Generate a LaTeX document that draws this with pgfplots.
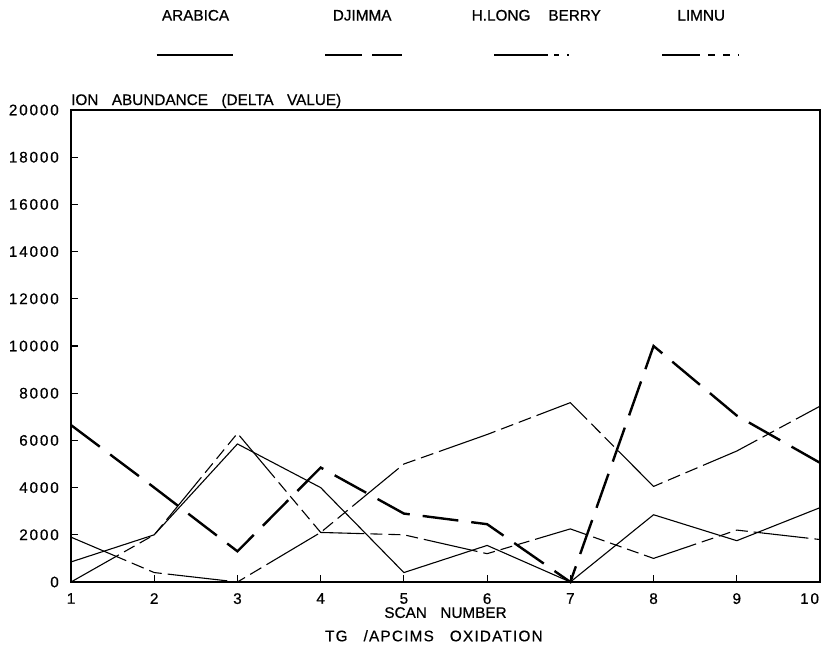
\documentclass[border=0pt]{standalone}
\usepackage{fontspec}
\setmainfont{Liberation Sans}[FakeBold=0.6]
\newfontfamily\numfont{Liberation Sans}[LetterSpace=12, FakeBold=0.6]
\newfontfamily\titfont{Liberation Sans}[LetterSpace=8, FakeBold=0.6]
\usepackage{pgfplots}
\pgfplotsset{compat=1.18}
\newcommand\f{\fontsize{15.3}{18}\selectfont}
\newcommand\gap{\hspace{13.5pt}}
\pgfplotsset{
 araleg/.style={legend image code/.code={
   \path[draw=none, fill=none] (0,-1pt) rectangle (77pt,1pt);
   \draw[black, solid, line width=1.1pt] (0,0) -- (76pt,0);
   \node[overlay, inner sep=0pt, font=\f, solid] at (39pt,39pt) {ARABICA};
 }},
 djileg/.style={legend image code/.code={
   \path[draw=none, fill=none] (0,-1pt) rectangle (77pt,1pt);
   \draw[black, line width=2.4pt, dash pattern=on 37pt off 10pt on 30pt off 100pt] (0,0) -- (77pt,0);
   \node[overlay, inner sep=0pt, font=\f, draw=none] at (37pt,39pt) {DJIMMA};
 }},
 hlbleg/.style={legend image code/.code={
   \path[draw=none, fill=none] (0,-1pt) rectangle (77pt,1pt);
   \draw[black, line width=1.1pt, dash pattern=on 54pt off 6pt on 5pt off 8pt on 1.2pt off 100pt] (0,0) -- (74.2pt,0);
   \node[overlay, inner sep=0pt, font=\f, draw=none] at (42pt,39pt) {H.LONG\hspace{18pt}BERRY};
 }},
 limleg/.style={legend image code/.code={
   \path[draw=none, fill=none] (0,-1pt) rectangle (77pt,1pt);
   \draw[black, line width=1.1pt, dash pattern=on 38pt off 8pt on 7pt off 8pt on 7pt off 8pt on 1.2pt off 100pt] (0,0) -- (77pt,0);
   \node[overlay, inner sep=0pt, font=\f, draw=none] at (39pt,39pt) {LIMNU};
 }},
}
\begin{document}
\begin{tikzpicture}
\useasboundingbox (0,0) rectangle (821pt,654pt);
\begin{axis}[
  at={(71pt,72pt)}, anchor=south west,
  scale only axis, width=749pt, height=472pt,
  xmin=1, xmax=10, ymin=0, ymax=20000,
  xtick={1,2,...,10}, ytick={0,2000,...,20000},
  xticklabels={1,2,3,4,5,6,7,8,9,{\makebox[0pt][r]{10\hspace{1pt}}}},
  scaled y ticks=false,
  tick align=inside, xtick pos=bottom, ytick pos=left,
  major tick length=7pt,
  tick style={line width=1.2pt, black},
  axis line style={line width=1.5pt},
  /pgf/number format/assume math mode=true,
  /pgf/number format/1000 sep={},
  ticklabel style={font=\numfont\f, inner sep=0pt},
  yticklabel style={xshift=-12pt},
  xticklabel style={yshift=-11pt},
  xlabel={SCAN\gap NUMBER},
  every axis x label/.style={at={(axis description cs:0.5,0)}, anchor=north, yshift=-25pt, inner sep=0pt, font=\f},
  ylabel={ION\gap ABUNDANCE\gap (DELTA\gap VALUE)},
  every axis y label/.style={at={(axis description cs:0,1)}, anchor=base west, yshift=5pt, inner sep=0pt, font=\f},
  extra description/.code={
    \node[anchor=north east, inner sep=0pt, font=\titfont\f] at ([yshift=-48pt]axis description cs:0.630,0) {TG\hspace{16pt}/APCIMS\hspace{16pt}OXIDATION};
  },
  clip=false,
  legend columns=4,
  legend style={draw=none, fill=none, inner sep=0pt, outer sep=0pt,
    at={(axis description cs:0.1135,1.1165)}, anchor=west,
    nodes={inner sep=0pt},
    /tikz/every odd column/.style={column sep=0pt},
    /tikz/every even column/.style={column sep=89.4pt}},
]
\addplot[black, line width=1.1pt, line join=round, araleg] coordinates {
 (1,850) (2,2000) (3,5850) (4,4000) (5,400) (6,1550) (7,0) (8,2850) (9,1750) (10,3150)};
\addlegendentry{\null}
\addplot[black, line width=2.4pt, dash pattern=on 36pt off 13pt, djileg] coordinates {
 (1,6650) (2,4000) (3,1300) (4,4850) (5,2900) (6,2450) (7,0) (8,10000) (9,7050) (10,5050)};
\addlegendentry{\null}
\addplot[black, line width=1.1pt, line join=round, dash pattern=on 60pt off 6pt on 13pt off 6pt on 13pt off 6pt, hlbleg] coordinates {
 (1,1900) (2,400) (3,0) (4,2100) (5,5000) (6,6250) (7,7600) (8,4050) (9,5550) (10,7450)};
\addlegendentry{\null}
\addplot[black, line width=1.1pt, line join=round, dash pattern=on 55pt off 6pt on 12pt off 6pt on 12pt off 6pt on 12pt off 6pt, limleg] coordinates {
 (1,0) (2,2000) (3,6300) (4,2100) (5,2000) (6,1200) (7,2250) (8,1000) (9,2200) (10,1800)};
\addlegendentry{\null}
\end{axis}
\end{tikzpicture}
\end{document}
